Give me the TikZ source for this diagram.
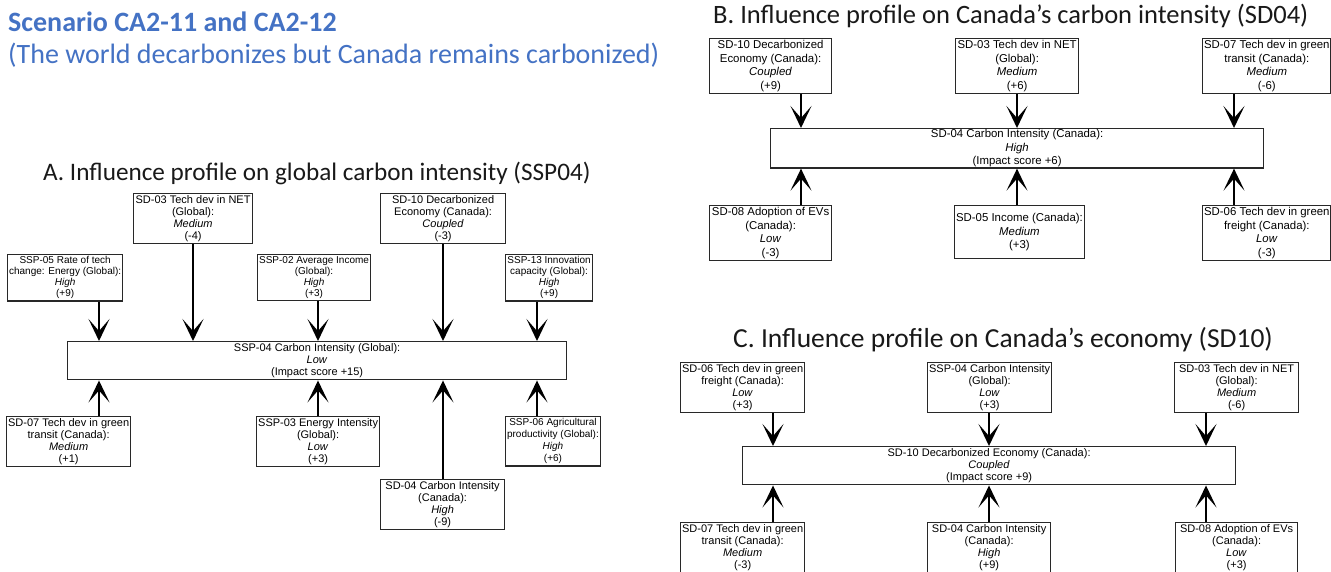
\documentclass[tikz,border=0pt]{standalone}
\usepackage{fontspec}
\setmainfont{Liberation Sans}
\newfontfamily\calfont{Carlito}
\usetikzlibrary{arrows.meta}
\definecolor{titleblue}{RGB}{68,114,196}
\definecolor{boxline}{RGB}{40,40,40}
\definecolor{headtext}{RGB}{25,25,25}

\begin{document}
\begin{tikzpicture}[x=1pt,y=-1pt,
  box/.style={draw=boxline, line width=1.2pt, fill=white, inner xsep=1.5pt,
    inner ysep=2pt, align=center, anchor=north west,
    font=\fontsize{11}{12}\selectfont},
  sbox/.style={box, font=\fontsize{10}{11}\selectfont},
  bbox/.style={box, font=\fontsize{11.4}{13.4}\selectfont},
  arr/.style={line width=2.2pt, -{Stealth[length=22pt,width=21pt,inset=12pt]}},
  ttl/.style={anchor=west, inner sep=0pt, text=headtext,
    font=\calfont\fontsize{25.2}{30}\selectfont}]

\useasboundingbox (0,0) rectangle (1331,571);

% ---------- heading ----------
\node[anchor=west, inner sep=0pt, text=titleblue,
  font=\calfont\bfseries\fontsize{28}{32}\selectfont] (head1) at (8,22)
  {Scenario CA2-11 and CA2-12};
\node[anchor=west, inner sep=0pt, text=titleblue,
  font=\calfont\fontsize{28}{32}\selectfont] (head2) at (8,55)
  {(The world decarbonizes but Canada remains carbonized)};

% ---------- A: global carbon intensity ----------
\node[ttl] (ta) at (43,173) {A. Influence profile on global carbon intensity (SSP04)};

\node[box, minimum width=119pt] (a03) at (133,193)
  {SD-03 Tech dev in NET\\(Global):\\\textit{Medium}\\(-4)};
\node[box, minimum width=125pt] (a10) at (380,193)
  {SD-10 Decarbonized\\Economy (Canada):\\\textit{Coupled}\\(-3)};
\node[sbox, minimum width=108pt] (a05) at (7,254)
  {SSP-05 Rate of tech\\change: Energy (Global):\\\textit{High}\\(+9)};
\node[sbox, minimum width=110pt] (a02) at (257,254)
  {SSP-02 Average Income\\(Global):\\\textit{High}\\(+3)};
\node[sbox, minimum width=87pt] (a13) at (505,254)
  {SSP-13 Innovation\\capacity (Global):\\\textit{High}\\(+9)};

\node[box, minimum width=499pt] (amain) at (67,341)
  {SSP-04 Carbon Intensity (Global):\\\textit{Low}\\(Impact score +15)};

\node[box, minimum width=122pt] (a07) at (6,416)
  {SD-07 Tech dev in green\\transit (Canada):\\\textit{Medium}\\(+1)};
\node[box, minimum width=123pt] (a03e) at (256,416)
  {SSP-03 Energy Intensity\\(Global):\\\textit{Low}\\(+3)};
\node[box, font=\fontsize{10}{12}\selectfont, minimum width=88pt] (a06) at (505,416)
  {SSP-06 Agricultural\\productivity (Global):\\\textit{High}\\(+6)};
\node[box, minimum width=124pt] (a04) at (380,479)
  {SD-04 Carbon Intensity\\(Canada):\\\textit{High}\\(-9)};

\coordinate (ax1) at (99,0);
\coordinate (ax2) at (193,0);
\coordinate (ax3) at (318,0);
\coordinate (ax4) at (443,0);
\coordinate (ax5) at (537,0);

\draw[arr] (a05.south -| ax1) -- (amain.north -| ax1);
\draw[arr] (a03.south -| ax2) -- (amain.north -| ax2);
\draw[arr] (a02.south -| ax3) -- (amain.north -| ax3);
\draw[arr] (a10.south -| ax4) -- (amain.north -| ax4);
\draw[arr] (a13.south -| ax5) -- (amain.north -| ax5);
\draw[arr] (a07.north -| ax1) -- (amain.south -| ax1);
\draw[arr] (a03e.north -| ax3) -- (amain.south -| ax3);
\draw[arr] (a04.north -| ax4) -- (amain.south -| ax4);
\draw[arr] (a06.north -| ax5) -- (amain.south -| ax5);

% ---------- B: Canada's carbon intensity ----------
\node[ttl, font=\calfont\fontsize{26.5}{30}\selectfont] (tb) at (713,16)
  {B. Influence profile on Canada’s carbon intensity (SD04)};

\node[bbox, minimum width=122pt] (b10) at (709,38)
  {SD-10 Decarbonized\\Economy (Canada):\\\textit{Coupled}\\(+9)};
\node[bbox, minimum width=123pt] (b03) at (955,38)
  {SD-03 Tech dev in NET\\(Global):\\\textit{Medium}\\(+6)};
\node[bbox, minimum width=125pt] (b07) at (1202,38)
  {SD-07 Tech dev in green\\transit (Canada):\\\textit{Medium}\\(-6)};

\node[bbox, inner ysep=1pt, minimum width=493pt] (bmain) at (770,128)
  {SD-04 Carbon Intensity (Canada):\\\textit{High}\\(Impact score +6)};

\node[bbox, minimum width=122pt] (b08) at (709,205)
  {SD-08 Adoption of EVs\\(Canada):\\\textit{Low}\\(-3)};
\node[bbox, minimum width=125pt, minimum height=53pt] (b05) at (954,205)
  {SD-05 Income (Canada):\\\textit{Medium}\\(+3)};
\node[bbox, minimum width=123pt] (b06) at (1202,205)
  {SD-06 Tech dev in green\\freight (Canada):\\\textit{Low}\\(-3)};

\coordinate (bx1) at (801,0);
\coordinate (bx2) at (1017,0);
\coordinate (bx3) at (1234,0);

\draw[arr] (b10.south -| bx1) -- (bmain.north -| bx1);
\draw[arr] (b03.south -| bx2) -- (bmain.north -| bx2);
\draw[arr] (b07.south -| bx3) -- (bmain.north -| bx3);
\draw[arr] (b08.north -| bx1) -- (bmain.south -| bx1);
\draw[arr] (b05.north -| bx2) -- (bmain.south -| bx2);
\draw[arr] (b06.north -| bx3) -- (bmain.south -| bx3);

% ---------- C: Canada's economy ----------
\node[ttl, font=\calfont\fontsize{27.5}{30}\selectfont] (tc) at (733,340)
  {C. Influence profile on Canada’s economy (SD10)};

\node[box, minimum width=123pt] (c06) at (680,362)
  {SD-06 Tech dev in green\\freight (Canada):\\\textit{Low}\\(+3)};
\node[box, minimum width=123pt] (c04g) at (927,362)
  {SSP-04 Carbon Intensity\\(Global):\\\textit{Low}\\(+3)};
\node[box, minimum width=124pt] (c03) at (1174,362)
  {SD-03 Tech dev in NET\\(Global):\\\textit{Medium}\\(-6)};

\node[box, minimum width=493pt] (cmain) at (742,446)
  {SD-10 Decarbonized Economy (Canada):\\\textit{Coupled}\\(Impact score +9)};

\node[box, minimum width=123pt] (c07) at (680,522)
  {SD-07 Tech dev in green\\transit (Canada):\\\textit{Medium}\\(-3)};
\node[box, minimum width=123pt] (c04) at (927,522)
  {SD-04 Carbon Intensity\\(Canada):\\\textit{High}\\(+9)};
\node[box, minimum width=122pt] (c08) at (1175,522)
  {SD-08 Adoption of EVs\\(Canada):\\\textit{Low}\\(+3)};

\coordinate (cx1) at (773,0);
\coordinate (cx2) at (989,0);
\coordinate (cx3) at (1206,0);

\draw[arr] (c06.south -| cx1) -- (cmain.north -| cx1);
\draw[arr] (c04g.south -| cx2) -- (cmain.north -| cx2);
\draw[arr] (c03.south -| cx3) -- (cmain.north -| cx3);
\draw[arr] (c07.north -| cx1) -- (cmain.south -| cx1);
\draw[arr] (c04.north -| cx2) -- (cmain.south -| cx2);
\draw[arr] (c08.north -| cx3) -- (cmain.south -| cx3);

\end{tikzpicture}
\end{document}
